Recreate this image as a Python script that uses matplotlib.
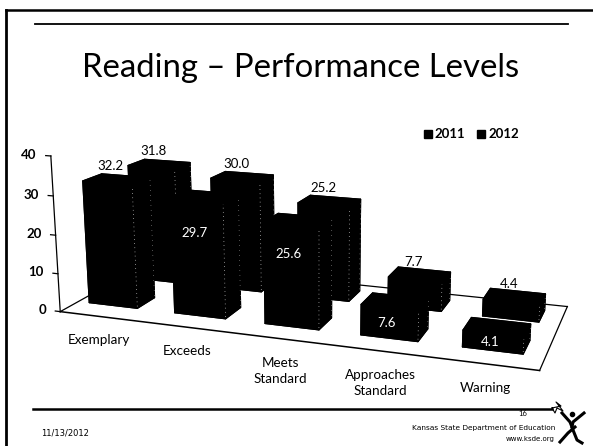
import matplotlib
matplotlib.use('Agg')
import matplotlib.pyplot as plt
from mpl_toolkits.mplot3d import Axes3D, proj3d  # noqa

plt.rcParams['font.family'] = ['Lato', 'DejaVu Sans']

categories = ['Exemplary', 'Exceeds', 'Meets\nStandard', 'Approaches\nStandard', 'Warning']
values_2011 = [32.2, 29.7, 25.6, 7.6, 4.1]
values_2012 = [31.8, 30.0, 25.2, 7.7, 4.4]
yticks = [0, 10, 20, 30, 40]

fig = plt.figure(figsize=(5.93, 4.46), dpi=100)
ax = fig.add_axes([0.0186, -0.2057, 1, 1.33], projection='3d', computed_zorder=False)
ax.set_proj_type('persp', focal_length=0.35)
ax.view_init(elev=14.6, azim=-70.5)
ax.set_xlim(0, 5)
ax.set_ylim(0, 2)
ax.set_zlim(0, 40)
ax.set_box_aspect((5, 1.95, 1.66), zoom=0.885)
ax.set_axis_off()
ax.patch.set_alpha(0)

# slide furniture goes on a pixel axes on top
over = fig.add_axes([0, 0, 1, 1])
over.set_xlim(0, 593)
over.set_ylim(446, 0)
over.axis('off')


def put(x, y, z, s, dx=0, dy=0, **kw):
    # 3d point -> pixel axes, so labels stay plain 2d text
    X, Y, _ = proj3d.proj_transform(x, y, z, ax.get_proj())
    p = over.transData.inverted().transform(ax.transData.transform((X, Y)))
    over.text(p[0] + dx, p[1] + dy, s, **kw)


# floor and wall lines
ax.plot([0, 5], [0, 0], [0, 0], color='black', lw=1.1, zorder=1)
ax.plot([0, 0], [0, 2], [0, 0], color='black', lw=0.9, zorder=1)
ax.plot([0, 5], [2, 2], [0, 0], color='black', lw=0.9, zorder=1)
ax.plot([5, 5], [0, 2], [0, 0], color='black', lw=0.9, zorder=1)
ax.plot([0, 0], [0, 0], [0, 40], color='black', lw=0.9, zorder=1)
for t in yticks:
    ax.plot([-0.06, 0], [0, 0], [t, t], color='black', lw=0.9, zorder=1)
    put(-0.17, 0, t, str(t), ha='right', va='center', fontsize=9.5, fontweight='bold')

width = 0.58
depth = 0.4
z = 2
for i in range(5):
    for row, vals in [(1, values_2012), (0, values_2011)]:
        x0 = i * 1.02 + 0.13
        y0 = 0.38 + row * 1.0
        v = vals[i]
        ax.bar3d(x0, y0, 0, width, depth, v, color='black', edgecolor='black', shade=False, zorder=z)
        # speckled white edges seen on the scan
        ax.plot([x0 + width] * 2, [y0, y0], [0.5, v - 0.5], color='white', lw=0.5, ls=(0, (1, 5)), zorder=z + 0.5)
        ax.plot([x0 + width] * 2, [y0 + depth] * 2, [0.5, v - 0.5], color='white', lw=0.4, ls=(0, (1, 8)), zorder=z + 0.5)
        if row == 1 or i == 0:
            put(x0 + width / 2, y0 + depth / 2, v + 0.5, f'{v:.1f}', dx=-6, dy=-5, ha='center', va='bottom',
                fontsize=9.5, color='black')
        else:
            put(x0 + width / 2, y0, v * (0.72 if v > 10 else 0.5), f'{v:.1f}', dx=-3, ha='center', va='center',
                fontsize=9.5, color='white')
        z += 1

for i, name in enumerate(categories):
    put(i + 0.5, -0.15, 0, name, dx=4, dy=13, ha='center', va='top', fontsize=9.7, linespacing=1.4)

over.plot([6, 6], [10, 446], color='black', lw=2)
over.plot([6, 593], [10, 10], color='black', lw=1.8)
over.plot([35, 568], [23.5, 23.5], color='black', lw=1.3)
over.plot([33, 552], [409, 409], color='black', lw=1.8)

over.text(301, 68, 'Reading \u2013 Performance Levels', ha='center', va='center', fontsize=23.7)
over.text(450, 134, '2011', ha='center', va='center', fontsize=9.5, fontweight='bold')
over.text(504, 134, '2012', ha='center', va='center', fontsize=9.5, fontweight='bold')
over.plot([428], [134], marker='s', ms=5.5, color='black')
over.plot([481], [134], marker='s', ms=5.5, color='black')

over.text(41, 433, '11/13/2012', ha='left', va='center', fontsize=6, family='DejaVu Sans')
over.text(555, 428, 'Kansas State Department of Education', ha='right', va='center', fontsize=5.3, family='DejaVu Sans')
over.text(555, 439, 'www.ksde.org', ha='right', va='center', fontsize=5, family='DejaVu Sans')
over.text(523, 413, '16', ha='center', va='center', fontsize=5.5)

# logo figure
over.plot([552, 561, 556, 563, 557, 555, 552], [408, 406, 402, 411, 408, 413, 408], color='black', lw=0.8)
over.plot([562, 570, 572], [413, 422, 427], color='black', lw=2.2)
over.plot([584, 573, 572], [413, 422, 427], color='black', lw=2.2)
over.plot([560, 568, 575], [442, 433, 427], color='black', lw=2.2)
over.plot([573, 577, 582], [430, 440, 443], color='black', lw=2.2)
over.plot([572], [414], marker='o', ms=3, color='black')

fig.savefig('out.png', dpi=100)
